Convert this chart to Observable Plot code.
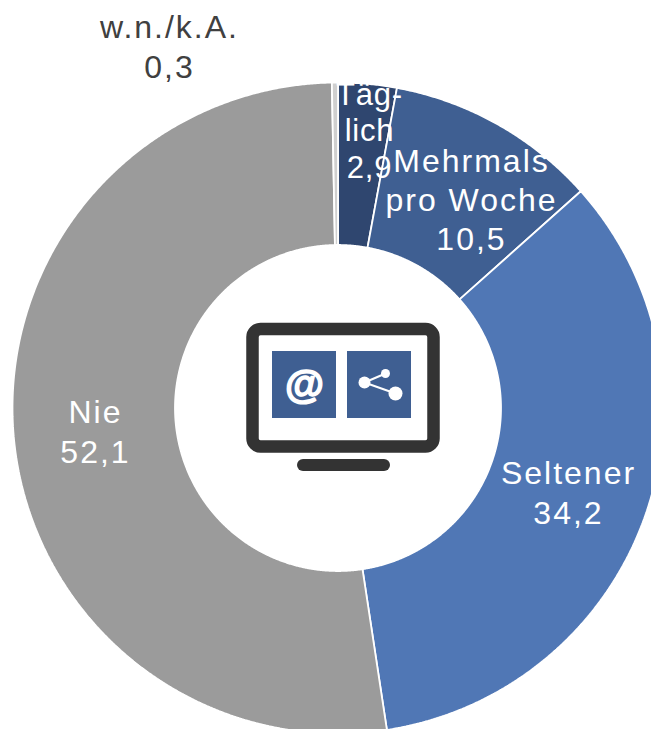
<!DOCTYPE html>
<html>
<head>
<meta charset="utf-8">
<script src="https://cdn.jsdelivr.net/npm/d3@7"></script>
<script src="https://cdn.jsdelivr.net/npm/@observablehq/plot@0.6"></script>
<style>html,body{margin:0;padding:0;background:#fff}svg{display:block}</style>
</head>
<body>
<div id="chart"></div>
<script>
const categories = ["Täg-\nlich", "Mehrmals\npro Woche", "Seltener", "Nie", "w.n./k.A."];
const values = [2.9, 10.5, 34.2, 52.1, 0.3];
const valueLabels = ["2,9", "10,5", "34,2", "52,1", "0,3"];
const colors = ["#2f466f", "#3f5f92", "#5077b5", "#9b9b9b", "#cfcfcf"];
const labelX = [369, 471, 568, 95, 169];
const labelY = [129, 198, 491, 430, 45];
const labelColors = ["#fff", "#fff", "#fff", "#fff", "#404040"];

const W = 651, H = 729, cx = 337.5, cy = 407.5, R = 325.5, r = 163;

const arcs = d3.pie().sort(null).value(d => d)(values);
function wedge(a) {
  const pts = [];
  const n = Math.max(2, Math.ceil((a.endAngle - a.startAngle) / 0.005));
  for (let i = 0; i <= n; i++) {
    const t = a.startAngle + (a.endAngle - a.startAngle) * i / n;
    pts.push([cx + R * Math.sin(t), cy - R * Math.cos(t)]);
  }
  for (let i = n; i >= 0; i--) {
    const t = a.startAngle + (a.endAngle - a.startAngle) * i / n;
    pts.push([cx + r * Math.sin(t), cy - r * Math.cos(t)]);
  }
  return pts;
}

const labels = categories.map((c, i) => ({
  text: c + "\n" + valueLabels[i], x: labelX[i], y: labelY[i], color: labelColors[i]
}));

const spaced = px => (i, s, v, d, c, next) => {
  const g = next(i, s, v, d, c);
  g.style.letterSpacing = px;
  return g;
};

const dark = "#333333", tile = "#3f5f92";
const monitor = [{x1: 252.5, x2: 433.5, y1: 329, y2: 446.5}];
const stand = [{x1: 297, x2: 390, y1: 459, y2: 471}];
const tiles = [{x1: 272, x2: 336, y1: 351, y2: 418}, {x1: 347, x2: 411, y1: 351, y2: 418}];
const nodes = [{x: 364, y: 382, r: 6}, {x: 385, y: 373, r: 4.5}, {x: 395, y: 393, r: 7}];
const edges = [[nodes[0], nodes[1]], [nodes[0], nodes[2]]];

const plot = Plot.plot({
  width: W, height: H, margin: 0,
  x: {domain: [0, W], range: [0, W], axis: null},
  y: {domain: [0, H], range: [0, H], axis: null},
  r: {type: "identity"},
  style: {fontFamily: "'Liberation Sans', Arial, sans-serif", background: "#fff"},
  marks: [
    ...arcs.map((a, i) => Plot.line(wedge(a), {
      curve: "linear-closed", fill: colors[i], stroke: "#fff", strokeWidth: 1.8, strokeLinejoin: "miter"
    })),
    Plot.text(labels.slice(0, 1), {
      x: "x", y: "y", text: "text", fill: "color", fontSize: 31, lineHeight: 1.18, textAnchor: "middle",
      render: spaced("0.8px")
    }),
    Plot.text(labels.slice(1), {
      x: "x", y: "y", text: "text", fill: "color", fontSize: 32, lineHeight: 1.22, textAnchor: "middle",
      render: spaced("2px")
    }),
    Plot.rect(monitor, {x1: "x1", x2: "x2", y1: "y1", y2: "y2", fill: "#fff", stroke: dark, strokeWidth: 12.5, rx: 8}),
    Plot.rect(stand, {x1: "x1", x2: "x2", y1: "y1", y2: "y2", fill: dark, rx: 6}),
    Plot.rect(tiles, {x1: "x1", x2: "x2", y1: "y1", y2: "y2", fill: tile}),
    Plot.text(["@"], {x: [304], y: [385], fontSize: 40, fontWeight: "bold", fill: "#fff", stroke: "#fff", strokeWidth: 1.4}),
    ...edges.map(e => Plot.line(e, {x: "x", y: "y", stroke: "#fff", strokeWidth: 2})),
    Plot.dot(nodes, {x: "x", y: "y", r: "r", fill: "#fff"})
  ]
});
document.getElementById("chart").appendChild(plot);
</script>
</body>
</html>
